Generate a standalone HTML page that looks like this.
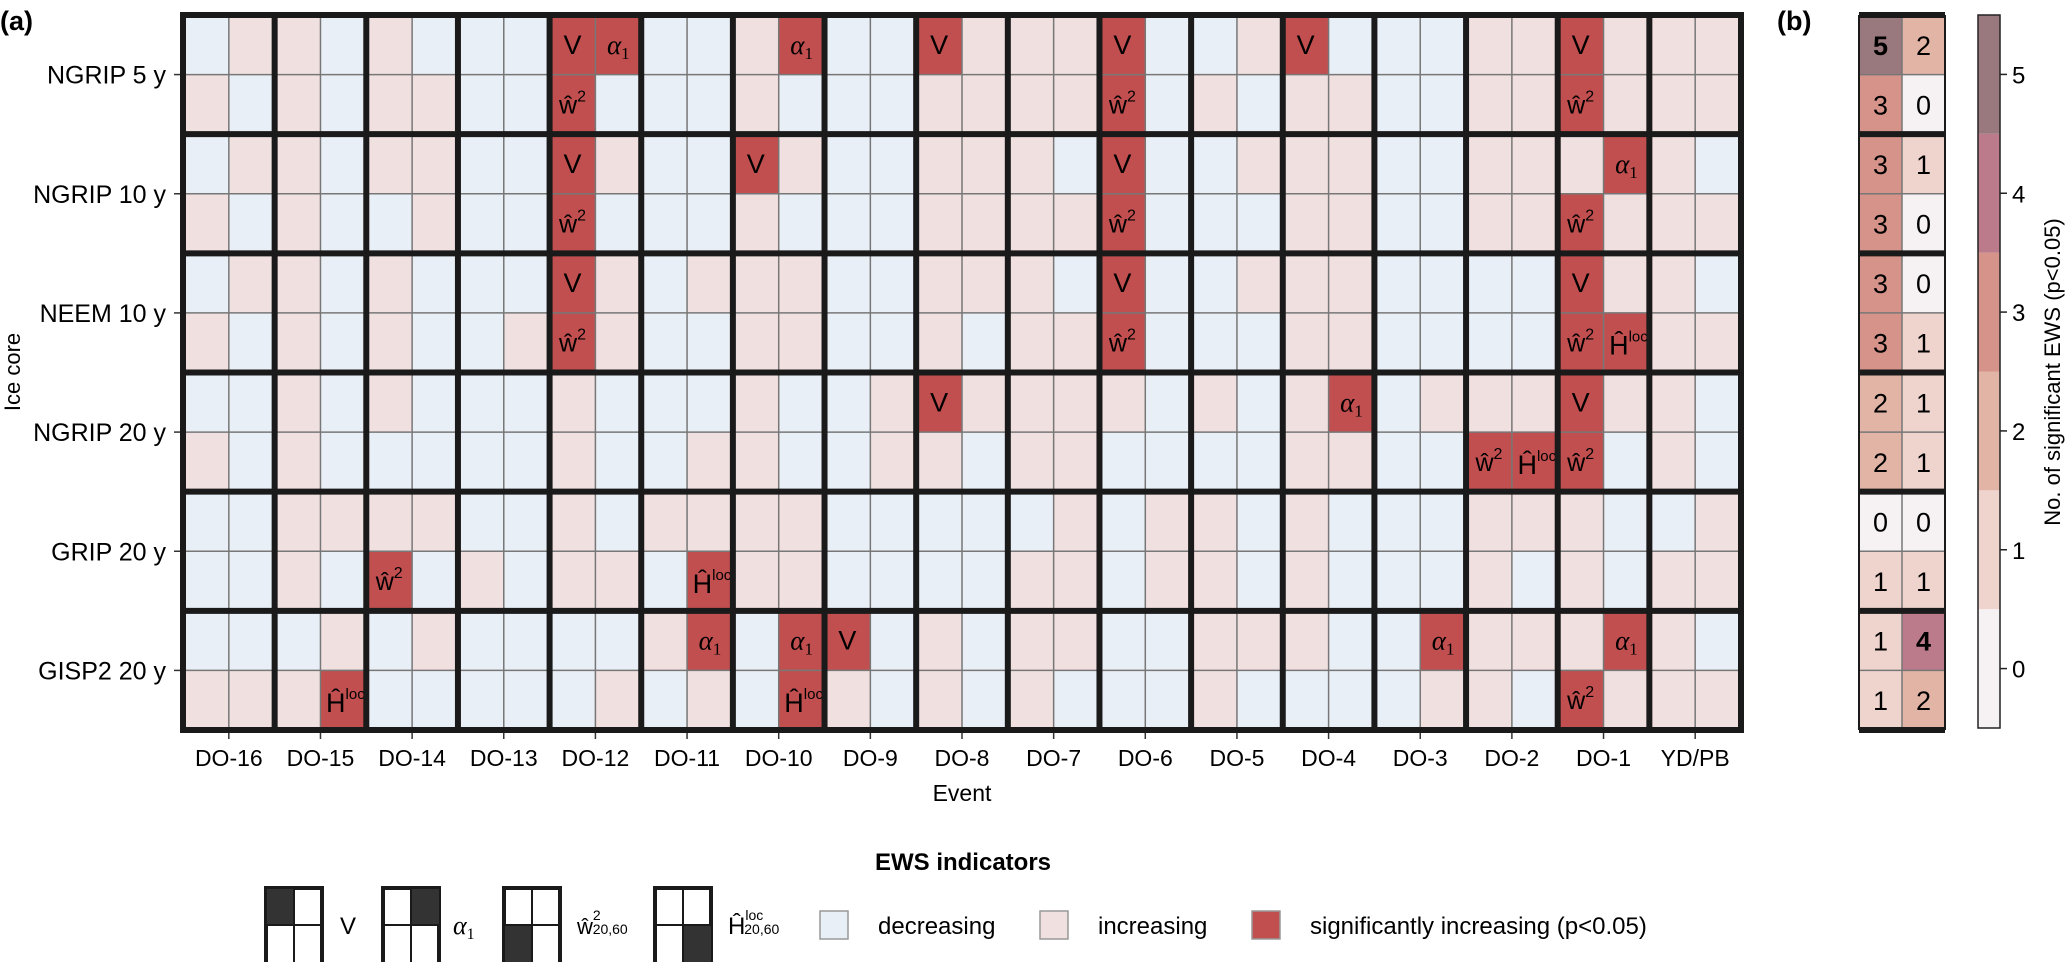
<!DOCTYPE html>
<html><head><meta charset="utf-8">
<style>
html,body{margin:0;padding:0;background:#fff;}
svg{display:block;font-family:"Liberation Sans",sans-serif;}
</style></head>
<body>
<svg id="chart" width="2067" height="962" viewBox="0 0 2067 962" xmlns="http://www.w3.org/2000/svg">
<text x="0" y="30" font-size="27" font-weight="bold">(a)</text>
<text x="1777" y="30" font-size="27" font-weight="bold">(b)</text>
<text transform="translate(20,372) rotate(-90)" text-anchor="middle" font-size="22">Ice core</text>
<text x="962" y="801" text-anchor="middle" font-size="23">Event</text>
<g id="main"></g>
<g id="panelb"></g>
<g id="cbar"></g>
<g id="legend"></g>
</svg>
<script>
const events = ["DO-16","DO-15","DO-14","DO-13","DO-12","DO-11","DO-10","DO-9","DO-8","DO-7","DO-6","DO-5","DO-4","DO-3","DO-2","DO-1","YD/PB"];
const cores = ["NGRIP 5 y","NGRIP 10 y","NEEM 10 y","NGRIP 20 y","GRIP 20 y","GISP2 20 y"];
// 0 = decreasing, 1 = increasing, 2 = significantly increasing; one pair per event
const statusRowsRaw = [
 "01 10 10 00 22 00 12 00 21 11 20 01 20 00 11 21 11",
 "10 10 11 00 20 00 10 00 11 11 20 10 11 00 11 21 11",
 "01 10 11 00 21 00 21 00 11 10 20 01 11 00 11 12 10",
 "10 10 01 00 20 00 10 00 11 11 20 00 11 00 11 21 11",
 "01 10 10 00 21 01 11 00 11 10 20 01 11 00 00 21 10",
 "10 10 10 01 21 00 11 00 10 11 20 00 11 00 00 22 11",
 "00 10 10 00 10 00 10 01 21 11 10 10 12 01 11 21 10",
 "10 10 00 00 10 01 10 01 10 11 00 00 11 00 22 20 10",
 "00 11 11 00 10 11 11 00 00 01 01 10 10 00 11 10 01",
 "00 10 20 10 11 02 11 00 00 11 01 10 10 00 10 10 11",
 "00 01 01 00 00 12 02 20 10 11 00 11 10 02 11 12 10",
 "11 12 00 00 01 01 02 10 10 10 00 10 00 01 10 21 11"
];
const cbarTicks = [0,1,2,3,4,5];
const countColors = ["#f6f2f3","#efd4ce","#e2b4a5","#d69389","#bb7b8b","#9a797e"];
const cellColors = ["#e8eff6","#f1e0e0","#c24f4f"];
const statusRows = statusRowsRaw.map(s=>s.replace(/ /g,''));

const NS="http://www.w3.org/2000/svg";
const X0=183, X1=1741, Y0=15, Y1=730;
const evW=(X1-X0)/events.length, cW=evW/2;
const blkH=(Y1-Y0)/cores.length, cH=blkH/2;
const xCol=c=>X0+c*cW;
const yRow=r=>Y0+r*cH;
function mk(tag,attrs,parent,text){const e=document.createElementNS(NS,tag);for(const k in attrs)e.setAttribute(k,attrs[k]);if(text!==undefined)e.textContent=text;parent.appendChild(e);return e;}

const main=document.getElementById('main');
statusRows.forEach((row,r)=>{
  for(let c=0;c<row.length;c++){
    const v=+row[c];
    const rc=mk('rect',{x:xCol(c),y:yRow(r),width:cW,height:cH,fill:cellColors[v]},main);
    
    
    if(v===2){
      const cx=xCol(c)+cW/2, cy=yRow(r)+cH/2+9;
      const top=r%2===0, left=c%2===0;
      let t;
      if(top&&left){t=mk('text',{x:cx,y:cy,'text-anchor':'middle','font-size':27},main,'V');}
      else if(top){t=mk('text',{x:cx,y:cy,'text-anchor':'middle','font-size':27,'font-family':'Liberation Serif, serif','font-style':'italic'},main);
        mk('tspan',{},t,'α');mk('tspan',{'font-size':17,'font-style':'normal',dy:5},t,'1');}
      else if(left){t=mk('text',{x:cx,y:cy,'text-anchor':'middle','font-size':25},main);
        mk('tspan',{},t,'ŵ');mk('tspan',{'font-size':16,dy:-12},t,'2');}
      else {t=mk('text',{x:cx+2,y:cy+3,'text-anchor':'middle','font-size':27},main);
        mk('tspan',{},t,'Ĥ');mk('tspan',{'font-size':15,dy:-13},t,'loc');}
      
      
    }
  }
});
for(let e=0;e<events.length;e++){mk('line',{x1:X0+e*evW+cW,x2:X0+e*evW+cW,y1:Y0,y2:Y1,stroke:'#777','stroke-width':1.5},main);}
for(let b=0;b<cores.length;b++){mk('line',{x1:X0,x2:X1,y1:Y0+b*blkH+cH,y2:Y0+b*blkH+cH,stroke:'#777','stroke-width':1.5},main);}
for(let e=0;e<=events.length;e++){mk('line',{x1:X0+e*evW,x2:X0+e*evW,y1:Y0-3,y2:Y1+3,stroke:'#1a1a1a','stroke-width':6},main);}
for(let b=0;b<=cores.length;b++){mk('line',{x1:X0-3,x2:X1+3,y1:Y0+b*blkH,y2:Y0+b*blkH,stroke:'#1a1a1a','stroke-width':6},main);}
events.forEach((ev,e)=>{
  const x=X0+e*evW+evW/2;
  mk('line',{x1:x,x2:x,y1:Y1+3,y2:Y1+9,stroke:'#333','stroke-width':1.5},main);
  const t=mk('text',{x:x,y:766,'text-anchor':'middle','font-size':23},main,ev);
  
  
});
cores.forEach((co,b)=>{
  const y=Y0+b*blkH+cH;
  mk('line',{x1:X0-9,x2:X0-3,y1:y,y2:y,stroke:'#333','stroke-width':1.5},main);
  const t=mk('text',{x:166,y:y+9,'text-anchor':'end','font-size':25},main,co);
  
  
});

const pb=document.getElementById('panelb');
const BX0=1859, BW=43;
statusRows.forEach((row,r)=>{
  for(let k=0;k<2;k++){
    let n=0;for(let c=k;c<row.length;c+=2)if(row[c]==='2')n++;
    const rc=mk('rect',{x:BX0+k*BW,y:yRow(r),width:BW,height:cH,fill:countColors[Math.min(n,5)]},pb);
    
    
    const t=mk('text',{x:BX0+k*BW+BW/2,y:yRow(r)+cH/2+10,'text-anchor':'middle','font-size':27,'font-weight':n>=4?'bold':'normal'},pb,String(n));
    
    
  }
});
mk('line',{x1:BX0+BW,x2:BX0+BW,y1:Y0,y2:Y1,stroke:'#777','stroke-width':1.5},pb);
for(let b=0;b<cores.length;b++){mk('line',{x1:BX0,x2:BX0+2*BW,y1:Y0+b*blkH+cH,y2:Y0+b*blkH+cH,stroke:'#777','stroke-width':1.5},pb);}
for(let b=0;b<=cores.length;b++){mk('line',{x1:BX0,x2:BX0+2*BW,y1:Y0+b*blkH,y2:Y0+b*blkH,stroke:'#1a1a1a','stroke-width':6},pb);}
mk('line',{x1:BX0,x2:BX0,y1:Y0,y2:Y1,stroke:'#1a1a1a','stroke-width':2},pb);
mk('line',{x1:BX0+2*BW,x2:BX0+2*BW,y1:Y0,y2:Y1,stroke:'#1a1a1a','stroke-width':2},pb);

const cb=document.getElementById('cbar');
const CX=1978, CWd=22, CT=15, CB=728;
const vy=v=>CB-(v+0.5)*(CB-CT)/6;
cbarTicks.forEach((v,i)=>{
  const rc=mk('rect',{x:CX,y:vy(v+0.5),width:CWd,height:vy(v-0.5)-vy(v+0.5),fill:countColors[i]},cb);
  
  
  mk('line',{x1:CX+CWd,x2:CX+CWd+7,y1:vy(v),y2:vy(v),stroke:'#222','stroke-width':1.5},cb);
  const t=mk('text',{x:CX+CWd+12,y:vy(v)+9,'font-size':24},cb,String(v));
  
  
});
mk('rect',{x:CX,y:CT,width:CWd,height:CB-CT,fill:'none',stroke:'#222','stroke-width':1.5},cb);
const ct=mk('text',{transform:'translate(2060,372) rotate(-90)','text-anchor':'middle','font-size':22},cb,'No. of significant EWS (p<0.05)');



const lg=document.getElementById('legend');
const lt=mk('text',{x:963,y:870,'text-anchor':'middle','font-size':24,'font-weight':'bold'},lg,'EWS indicators');


const glyphX=[266,383,504,655];
glyphX.forEach((gx,i)=>{
  const g=mk('g',{},lg);
  
  
  mk('rect',{x:gx,y:888,width:56,height:76,fill:'#fff',stroke:'#1a1a1a','stroke-width':4},g);
  const qx=gx+(i%2)*28, qy=888+Math.floor(i/2)*37;
  mk('rect',{x:qx+1,y:qy+1,width:27,height:37,fill:'#333'},g);
  mk('line',{x1:gx+28,x2:gx+28,y1:888,y2:964,stroke:'#1a1a1a','stroke-width':2},g);
  mk('line',{x1:gx,x2:gx+56,y1:925,y2:925,stroke:'#1a1a1a','stroke-width':2},g);
});
let t;
t=mk('text',{x:340,y:934,'font-size':24},lg,'V');
t=mk('text',{x:453,y:934,'font-size':26,'font-family':'Liberation Serif, serif','font-style':'italic'},lg);
mk('tspan',{},t,'α');mk('tspan',{'font-size':16,'font-style':'normal',dy:5},t,'1');

t=mk('text',{x:577,y:934,'font-size':22},lg);
mk('tspan',{},t,'ŵ');mk('tspan',{'font-size':14,dy:-14},t,'2');mk('tspan',{'font-size':14,dx:-8,dy:14},t,'20,60');

t=mk('text',{x:728,y:934,'font-size':24},lg);
mk('tspan',{},t,'Ĥ');mk('tspan',{'font-size':14,dy:-14},t,'loc');mk('tspan',{'font-size':14,dx:-19,dy:14},t,'20,60');

const sw=[[820,'decreasing',cellColors[0]],[1040,'increasing',cellColors[1]],[1252,'significantly increasing (p<0.05)',cellColors[2]]];
sw.forEach(s=>{
  const r=mk('rect',{x:s[0],y:911,width:28,height:28,fill:s[2],stroke:'#999','stroke-width':1.5},lg);
  
  
  const tx=mk('text',{x:s[0]+58,y:934,'font-size':24},lg,s[1]);
  
  
});
</script>
</body></html>
